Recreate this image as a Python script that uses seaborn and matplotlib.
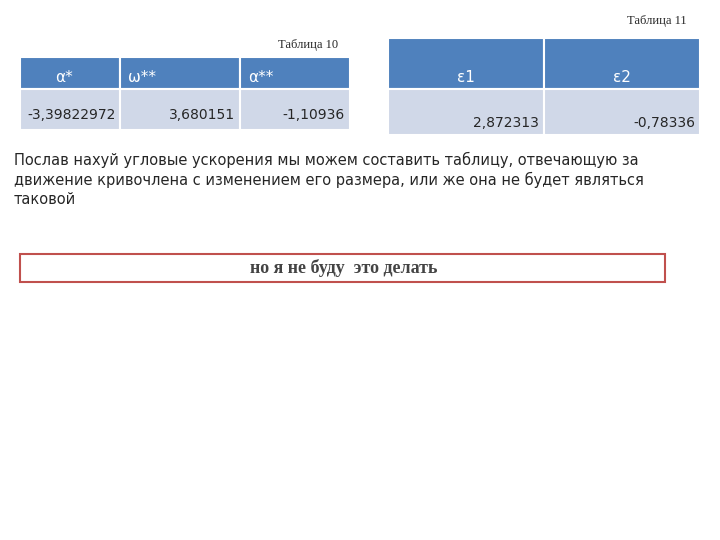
import matplotlib
matplotlib.use("Agg")
import matplotlib.pyplot as plt
import seaborn as sns
from matplotlib.patches import Rectangle

sns.set_theme(style="white")
plt.rcParams['font.family'] = ['DejaVu Sans']

t10_headers = ["α*", "ω**", "α**"]
t10_values = ["-3,39822972", "3,680151", "-1,10936"]
t11_headers = ["ε1", "ε2"]
t11_values = ["2,872313", "-0,78336"]
caption10 = "Таблица 10"
caption11 = "Таблица 11"
paragraph = ["Послав нахуй угловые ускорения мы можем составить таблицу, отвечающую за",
             "движение кривочлена с изменением его размера, или же она не будет являться",
             "таковой"]
box_text = "но я не буду  это делать"

HEAD = "#4F81BD"
BODY = "#D0D8E8"

fig = plt.figure(figsize=(7.2, 5.4), dpi=100)
ax = fig.add_axes([0, 0, 1, 1])
ax.set_xlim(0, 720); ax.set_ylim(540, 0); ax.axis("off")

ax.text(657, 21, caption11, family="Liberation Serif", fontsize=9, ha="center", va="center")
ax.text(308, 45, caption10, family="Liberation Serif", fontsize=9, ha="center", va="center")

# Table 10
cols10 = [(20, 120), (120, 240), (240, 350)]
for (x0, x1), h, v, i in zip(cols10, t10_headers, t10_values, range(3)):
    ax.add_patch(Rectangle((x0, 57), x1 - x0, 32, fc=HEAD, ec="white", lw=1.5))
    ax.add_patch(Rectangle((x0, 89), x1 - x0, 41, fc=BODY, ec="white", lw=1.5))
    hx = [55, 128, 248][i]
    ax.text(hx, 77, h, color="white", fontsize=11, ha="left", va="center")
    if i == 0:
        ax.text(27, 115, v, fontsize=10, ha="left", va="center")
    else:
        ax.text(x1 - 5, 115, v, fontsize=10, ha="right", va="center")

# Table 11
cols11 = [(388, 544), (544, 700)]
for (x0, x1), h, v in zip(cols11, t11_headers, t11_values):
    ax.add_patch(Rectangle((x0, 38), x1 - x0, 51, fc=HEAD, ec="white", lw=1.5))
    ax.add_patch(Rectangle((x0, 89), x1 - x0, 46, fc=BODY, ec="white", lw=1.5))
    ax.text((x0 + x1) / 2, 77, h, color="white", fontsize=11, ha="center", va="center")
    ax.text(x1 - 5, 123, v, fontsize=10, ha="right", va="center")

for k, line in enumerate(paragraph):
    ax.text(14, 160 + 20 * k, line, fontsize=10.5, ha="left", va="center")

ax.add_patch(Rectangle((20, 254), 645, 28, fc="white", ec="#C0504D", lw=1.5))
ax.text(344, 268, box_text, family="Liberation Serif", fontsize=13, fontweight="bold",
        color="#444444", ha="center", va="center")

fig.savefig("out.png", dpi=100)
